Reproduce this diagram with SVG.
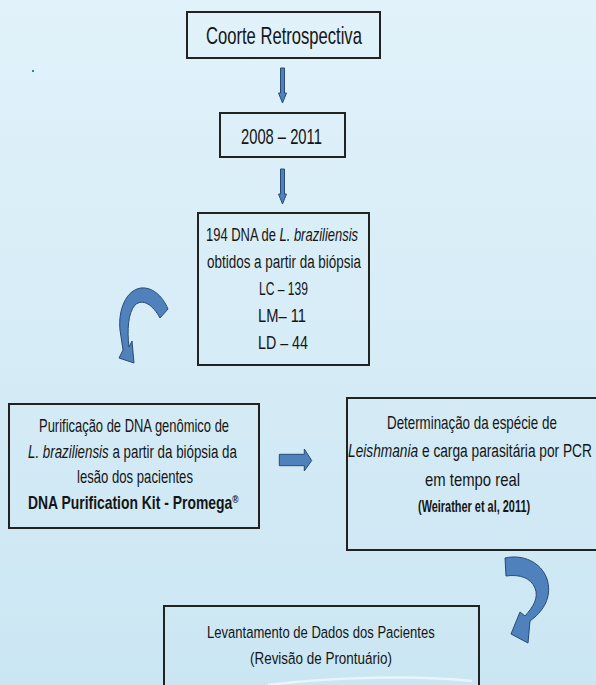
<svg xmlns="http://www.w3.org/2000/svg" width="596" height="685" viewBox="0 0 596 685">
<defs>
<linearGradient id="bg" x1="0" y1="0" x2="0" y2="1">
<stop offset="0" stop-color="#e1f2fa"/>
<stop offset="1" stop-color="#cbe6f3"/>
</linearGradient>
<style>
.box{fill:none;stroke:#222;stroke-width:2}
.arr{fill:#4f81bd;stroke:#2a4a73;stroke-width:1}
.t{font-family:"Liberation Sans",Arial,sans-serif;fill:#151515}
.b{font-weight:bold}
</style>
</defs>
<rect x="0" y="0" width="596" height="685" fill="url(#bg)"/>
<path d="M268,685 C330,677 420,675 472,681" fill="none" stroke="#f4fbff" stroke-width="2.5" opacity="0.7"/>
<rect x="32" y="70" width="2" height="2" fill="#2a7fd4"/>

<g id="connectors">
<polygon class="arr" points="280.5,68 284.5,68 284.5,93 286.5,93 282.5,103 278.5,93 280.5,93"/>
<polygon class="arr" points="280.5,169 284.5,169 284.5,194 286.5,194 282.5,204 278.5,194 280.5,194"/>
<polygon class="arr" points="279.3,454.3 304.3,454.3 304.3,449 311.7,460.5 304.3,471 304.3,465.7 279.3,465.7"/>
<path class="arr" d="M168,309 C162,295 152,287 141,288 C126,290 118,310 120,330 L123,350 L119,358 L134,363 L132,341 L129,347 C127,330 128,313 135,305 C143,298 153,305 160,318 Z"/>
<path class="arr" d="M505,558 C523,554 541,562 547,579 C552,595 545,608 535,617 L530,621 L528,643 L511,634 L520,612 L525,616 C533,607 539,598 535,588 C531,578 520,574 506,576 Z"/>
</g>

<g id="n1">
<rect class="box" x="187" y="12" width="193" height="46"/>
<text class="t" font-size="24" transform="translate(206,44) scale(0.692,1)">Coorte Retrospectiva</text>
</g>

<g id="n2">
<rect class="box" x="220" y="113" width="125" height="44"/>
<text class="t" font-size="22" transform="translate(241,144) scale(0.67,1)">2008 – 2011</text>
</g>

<g id="n3">
<rect class="box" x="198" y="213" width="171" height="152"/>
<text class="t" font-size="19" transform="translate(206,241) scale(0.683,1)">194 DNA de <tspan font-style="italic">L. braziliensis</tspan></text>
<text class="t" font-size="19" transform="translate(207,268) scale(0.708,1)">obtidos a partir da biópsia</text>
<text class="t" font-size="19" transform="translate(259,295) scale(0.636,1)">LC – 139</text>
<text class="t" font-size="19" transform="translate(258,322) scale(0.773,1)">LM– 11</text>
<text class="t" font-size="19" transform="translate(258,349) scale(0.752,1)">LD – 44</text>
</g>

<g id="n4">
<rect class="box" x="9" y="404" width="250" height="124"/>
<text class="t" font-size="18" transform="translate(39,432) scale(0.72,1)">Purificação de DNA genômico de</text>
<text class="t" font-size="18" transform="translate(28,458) scale(0.741,1)"><tspan font-style="italic">L. braziliensis</tspan> a partir da biópsia da</text>
<text class="t" font-size="18" transform="translate(77,483) scale(0.729,1)">lesão dos pacientes</text>
<text class="t b" font-size="18" transform="translate(28,509) scale(0.773,1)">DNA Purification Kit - Promega<tspan font-size="11" dy="-6">®</tspan></text>
</g>

<g id="n5">
<rect class="box" x="347" y="398" width="260" height="152"/>
<text class="t" font-size="18" transform="translate(387,429) scale(0.742,1)">Determinação da espécie de</text>
<text class="t" font-size="18" transform="translate(348,457) scale(0.762,1)"><tspan font-style="italic">Leishmania</tspan> e carga parasitária por PCR</text>
<text class="t" font-size="18" transform="translate(425,486) scale(0.826,1)">em tempo real</text>
<text class="t b" font-size="17" transform="translate(418,512) scale(0.643,1)">(Weirather et al, 2011)</text>
</g>

<g id="n6">
<rect class="box" x="164" y="606" width="315" height="100"/>
<text class="t" font-size="17" transform="translate(207,638) scale(0.768,1)">Levantamento de Dados dos Pacientes</text>
<text class="t" font-size="17" transform="translate(250,664) scale(0.791,1)">(Revisão de Prontuário)</text>
</g>
</svg>
